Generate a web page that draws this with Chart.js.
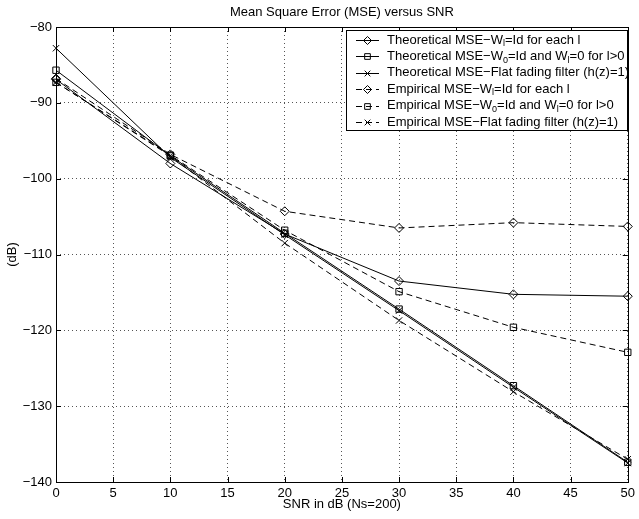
<!DOCTYPE html>
<html><head><meta charset="utf-8">
<script src="https://cdn.jsdelivr.net/npm/chart.js@4/dist/chart.umd.min.js"></script>
<style>html,body{margin:0;padding:0;background:#fff}canvas{display:block}</style>
</head><body>
<canvas id="c" width="639" height="519"></canvas>
<script>
// ---- data ----
const snr = [0, 10, 20, 30, 40, 50];
const thIdEach   = [-86.9, -98.0, -107.3, -113.5, -115.25, -115.5];
const thW0       = [-85.7, -97.0, -107.2, -117.2, -127.3, -137.4];
const thFlat     = [-82.8, -97.2, -107.4, -117.4, -127.5, -137.5];
const emIdEach   = [-86.8, -96.8, -104.3, -106.5, -105.8, -106.3];
const emW0       = [-87.3, -96.9, -106.8, -114.9, -119.6, -122.9];
const emFlat     = [-87.3, -97.0, -108.5, -118.7, -128.1, -137.0];
const xTicks = [0, 5, 10, 15, 20, 25, 30, 35, 40, 45, 50];
const yTicks = [-140, -130, -120, -110, -100, -90, -80];
const legendLabels = [
  'Theoretical MSE\u2212W_{l}=Id for each l',
  'Theoretical MSE\u2212W_{0}=Id and W_{l}=0 for l>0',
  'Theoretical MSE\u2212Flat fading filter (h(z)=1)',
  'Empirical MSE\u2212W_{l}=Id for each l',
  'Empirical MSE\u2212W_{0}=Id and W_{l}=0 for l>0',
  'Empirical MSE\u2212Flat fading filter (h(z)=1)'
];
const titleText = 'Mean Square Error (MSE) versus SNR';
const xTitle = 'SNR in dB (Ns=200)';
const yTitle = '(dB)';

const FONT = '"Liberation Sans", Arial, Helvetica, sans-serif';
const series = [thIdEach, thW0, thFlat, emIdEach, emW0, emFlat];
const styles = ['rectRot', 'rect', 'crossRot', 'rectRot', 'rect', 'crossRot'];
const radii = [4.5, 4.5, 4.5, 4.5, 4.5, 4.5];

const datasets = series.map((arr, i) => ({
  label: legendLabels[i],
  data: snr.map((x, j) => ({x: x, y: arr[j]})),
  borderColor: '#000',
  borderWidth: 1,
  borderDash: i >= 3 ? [6, 4] : [],
  pointStyle: styles[i],
  pointRadius: radii[i],
  pointBorderColor: '#000',
  pointBackgroundColor: 'rgba(0,0,0,0)',
  pointBorderWidth: 1,
  tension: 0,
  fill: false,
  clip: false
}));

function fmt(v) { return v < 0 ? '\u2212' + Math.abs(v) : String(v); }

function drawRich(ctx, text, x, y, size) {
  const parts = text.split(/(_\{[^}]*\})/);
  let cx = x;
  parts.forEach(p => {
    if (!p) return;
    if (p.startsWith('_{')) {
      const t = p.slice(2, -1);
      ctx.font = Math.round(size * 0.72) + 'px ' + FONT;
      ctx.fillText(t, cx, y + size * 0.28);
      cx += ctx.measureText(t).width;
    } else {
      ctx.font = size + 'px ' + FONT;
      ctx.fillText(p, cx, y);
      cx += ctx.measureText(p).width;
    }
  });
}

const decor = {
  id: 'decor',
  afterDraw(chart) {
    const ctx = chart.ctx;
    const a = chart.chartArea;
    const xs = chart.scales.x, ys = chart.scales.y;
    ctx.save();
    // frame
    ctx.strokeStyle = '#000';
    ctx.lineWidth = 1;
    ctx.setLineDash([]);
    ctx.strokeRect(Math.round(a.left) + 0.5, Math.round(a.top) + 0.5,
                   Math.round(a.right - a.left), Math.round(a.bottom - a.top));
    // inward tick marks
    const tl = 5;
    ctx.beginPath();
    xTicks.forEach(v => {
      const px = Math.round(xs.getPixelForValue(v)) + 0.5;
      ctx.moveTo(px, a.bottom); ctx.lineTo(px, a.bottom - tl);
      ctx.moveTo(px, a.top); ctx.lineTo(px, a.top + tl);
    });
    yTicks.forEach(v => {
      const py = Math.round(ys.getPixelForValue(v)) + 0.5;
      ctx.moveTo(a.left, py); ctx.lineTo(a.left + tl, py);
      ctx.moveTo(a.right, py); ctx.lineTo(a.right - tl, py);
    });
    ctx.stroke();

    // titles
    ctx.fillStyle = '#000';
    ctx.textBaseline = 'middle';
    ctx.textAlign = 'center';
    ctx.font = '13px ' + FONT;
    const cxm = (a.left + a.right) / 2;
    ctx.fillText(titleText, cxm, 12.5);
    ctx.fillText(xTitle, cxm, 504);
    ctx.save();
    ctx.translate(12, (a.top + a.bottom) / 2);
    ctx.rotate(-Math.PI / 2);
    ctx.fillText(yTitle, 0, 0);
    ctx.restore();

    // legend
    const L = 346, T = 30, R = 627, B = 130;
    ctx.fillStyle = '#fff';
    ctx.fillRect(L, T, R - L, B - T);
    ctx.strokeStyle = '#000';
    ctx.lineWidth = 1;
    ctx.strokeRect(L + 0.5, T + 0.5, R - L, B - T);
    ctx.textAlign = 'left';
    ctx.textBaseline = 'middle';
    chart.data.datasets.forEach((ds, i) => {
      const ry = 40 + i * 16.4;
      ctx.strokeStyle = '#000';
      ctx.lineWidth = 1;
      ctx.setLineDash(ds.borderDash);
      ctx.beginPath();
      ctx.moveTo(356, Math.round(ry) + 0.5);
      ctx.lineTo(379, Math.round(ry) + 0.5);
      ctx.stroke();
      ctx.setLineDash([]);
      ctx.fillStyle = 'rgba(0,0,0,0)';
      Chart.helpers.drawPoint(ctx, {pointStyle: ds.pointStyle, radius: 4, rotation: 0, borderWidth: 1}, 367.5, Math.round(ry) + 0.5);
      ctx.fillStyle = '#000';
      drawRich(ctx, ds.label, 387, ry, 13);
    });
    ctx.restore();
  }
};

new Chart(document.getElementById('c'), {
  type: 'line',
  data: {datasets: datasets},
  options: {
    responsive: false,
    animation: false,
    devicePixelRatio: 1,
    layout: {padding: {left: 0, right: 6, top: 27, bottom: 0}},
    plugins: {legend: {display: false}, title: {display: false}, tooltip: {enabled: false}},
    scales: {
      x: {
        type: 'linear', min: 0, max: 50,
        afterBuildTicks: s => { s.ticks = xTicks.map(v => ({value: v})); },
        afterFit: s => { s.height = 37; },
        ticks: {color: '#000', font: {family: FONT, size: 13}, padding: 4, maxRotation: 0, autoSkip: false},
        grid: {color: '#555', lineWidth: 1, drawTicks: false},
        border: {display: false, dash: [1, 3]}
      },
      y: {
        type: 'linear', min: -140, max: -80,
        afterBuildTicks: s => { s.ticks = yTicks.map(v => ({value: v})); },
        afterFit: s => { s.width = 56; },
        ticks: {color: '#000', font: {family: FONT, size: 13}, padding: 4, callback: v => fmt(v), autoSkip: false},
        grid: {color: '#555', lineWidth: 1, drawTicks: false},
        border: {display: false, dash: [1, 3]}
      }
    }
  },
  plugins: [decor]
});
</script>
</body></html>
